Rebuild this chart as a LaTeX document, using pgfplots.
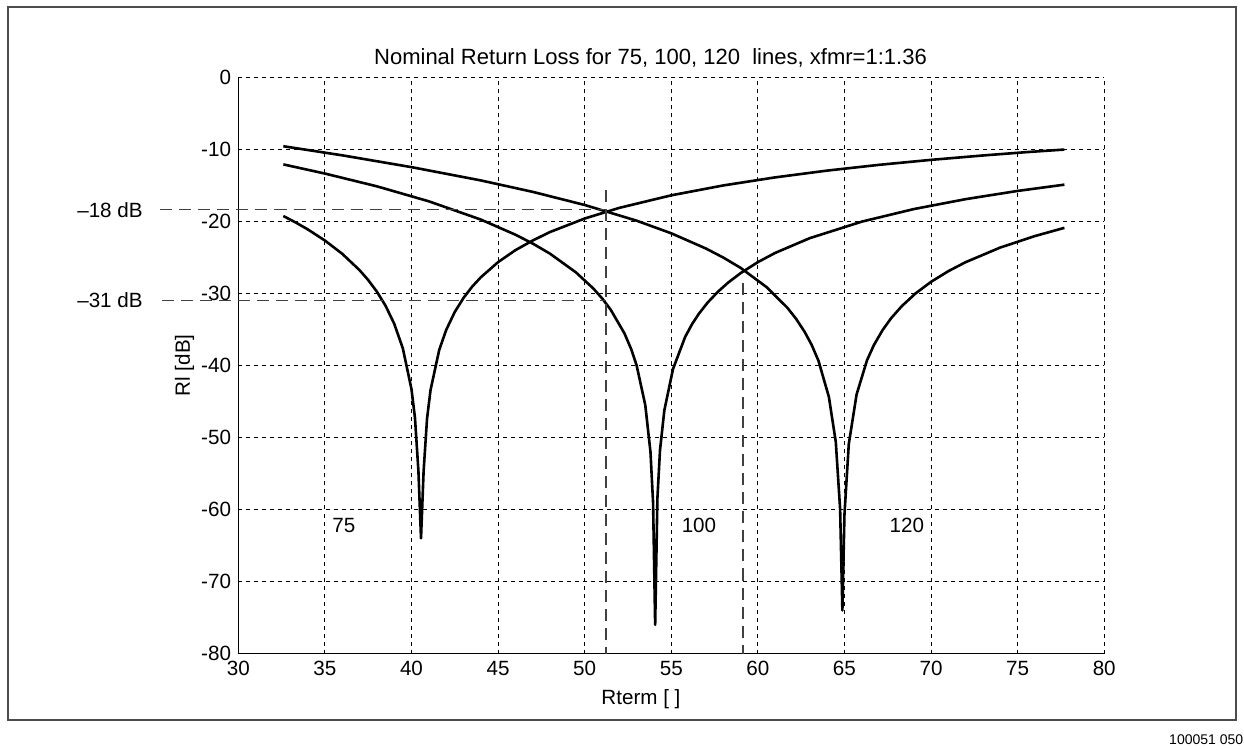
\documentclass[border=0pt]{standalone}
\usepackage{fontspec}
\setmainfont{Liberation Sans}
\usepackage{pgfplots}
\pgfplotsset{compat=1.18}

\begin{document}
\fontsize{10.3}{12}\selectfont
\begin{tikzpicture}
\begin{axis}[
  scale only axis, width=432.5pt, height=288pt,
  xmin=30, xmax=80, ymin=-80, ymax=0,
  xtick={30,35,...,80}, ytick={-80,-70,...,0},
  axis x line=bottom, axis y line=left,
  axis line style={-, line width=0.6pt},
  major tick length=0pt,
  grid=major,
  major grid style={black, line width=0.4pt, dash pattern=on 2pt off 2pt},
  tick label style={font=\fontsize{10.3}{12}\selectfont},
  /pgf/number format/assume math mode=true,
  clip=false,
  no markers,
]
% 75 ohm line
\addplot[black, line width=1.3pt, line join=round] coordinates {
(32.6,-19.28) (33.3,-20.16) (34,-21.12) (35,-22.68) (36,-24.52) (37,-26.79) (37.5,-28.16)
(38,-29.77) (38.5,-31.72) (39,-34.21) (39.5,-37.64) (40,-43.31) (40.2,-47.26) (40.4,-54.64)
(40.55,-64) (40.7,-54.68) (40.9,-47.34) (41.1,-43.43) (41.6,-37.87) (42,-35.11) (42.5,-32.59)
(43,-30.66) (43.5,-29.09) (44,-27.79) (45,-25.68) (46,-24.02) (47,-22.68) (48,-21.50)
(50,-19.63) (52,-18.15) (55,-16.41) (58,-15.04) (61,-13.92) (64,-12.98) (67,-12.18)
(70,-11.49) (73,-10.88) (75.5,-10.42) (77.7,-10.06)};
% 100 ohm line
\addplot[black, line width=1.3pt, line join=round] coordinates {
(32.6,-12.12) (35,-13.39) (38,-15.16) (41,-17.24) (44,-19.77) (46,-21.87) (47,-23.10)
(48,-24.51) (49.5,-27.11) (50.5,-29.34) (51,-30.69) (51.5,-32.27) (52.3,-35.58) (52.7,-37.83)
(53,-40.01) (53.5,-45.52) (53.8,-52.03) (53.95,-59.09) (54.07,-76) (54.2,-58.41) (54.35,-51.76)
(54.6,-46.24) (55.1,-40.51) (55.8,-36.06) (56.2,-34.28) (56.6,-32.82) (57.1,-31.29)
(57.7,-29.77) (58.3,-28.49) (59,-27.21) (60,-25.68) (61,-24.40) (63,-22.35) (66,-20.06)
(69,-18.32) (72,-16.94) (75,-15.80) (77.7,-14.93)};
% 120 ohm line
\addplot[black, line width=1.3pt, line join=round] coordinates {
(32.6,-9.60) (36,-10.86) (40,-12.50) (44,-14.34) (47,-15.93) (50,-17.75)
(53,-19.93) (55,-21.68) (57,-23.79) (58,-25.04) (59,-26.47) (60.5,-29.14) (61.7,-32.00)
(62.2,-33.52) (62.7,-35.35) (63.1,-37.13) (63.5,-39.37) (64.1,-44.37) (64.5,-50.64)
(64.75,-59.97) (64.88,-74) (65.0,-60.69) (65.25,-50.92) (65.7,-44.04) (66.3,-39.31)
(66.7,-37.18) (67.2,-35.11) (67.7,-33.44) (68.3,-31.81) (69.1,-30.03) (70,-28.41)
(71,-26.93) (72,-25.68) (74,-23.65) (76,-22.06) (77.7,-20.92)};

% annotation lines
\draw[black!75, line width=0.7pt, dash pattern=on 6pt off 3.5pt]
  (axis cs:25.5,-18.4) -- (axis cs:51.23,-18.4)
  (axis cs:25.6,-31.0) -- (axis cs:51.23,-31.0)
  (axis cs:51.23,-15.7) -- (axis cs:51.23,-80)
  (axis cs:59.15,-28.6) -- (axis cs:59.15,-80);
\node[anchor=east, inner sep=0pt] at (axis cs:24.5,-18.4) {–18 dB};
\node[anchor=east, inner sep=0pt] at (axis cs:24.5,-31.0) {–31 dB};

\node at (axis cs:36.1,-62.2) {75};
\node at (axis cs:56.6,-62.2) {100};
\node at (axis cs:68.6,-62.2) {120};

\node[font=\fontsize{11}{13}\selectfont] at (axis cs:53.8,2.6) {Nominal Return Loss for 75, 100, 120\ \ lines, xfmr=1:1.36};
\node at (axis cs:53.25,-86.3) {Rterm [ ]};
\node[rotate=90] at (axis cs:26.9,-40) {Rl [dB]};

% page frame and figure number
\draw[black!70, line width=0.8pt] (axis cs:16.7,9.72) rectangle (axis cs:87.6,-89.2);
\node[anchor=east, inner sep=0pt, font=\fontsize{7}{8}\selectfont] at (axis cs:88.05,-91.9) {100051 050};
\path (axis cs:16.24,10.69) rectangle (axis cs:88.07,-93.33);
\end{axis}
\end{tikzpicture}
\end{document}
